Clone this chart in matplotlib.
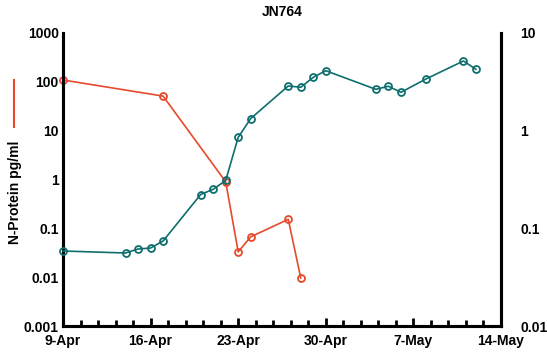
import matplotlib
matplotlib.use("Agg")
import matplotlib.pyplot as plt
from matplotlib.lines import Line2D
from matplotlib.ticker import FixedLocator
import datetime as dt
import matplotlib.dates as mdates

plt.rcParams['font.family'] = ['Liberation Sans', 'DejaVu Sans']
plt.rcParams['font.weight'] = 'bold'

YEAR = 2022
title = "JN764"
ylabel_left = "N-Protein pg/ml"

# Red series (left axis, N-Protein pg/ml)
red_dates = ["04-09", "04-17", "04-22", "04-23", "04-24", "04-27", "04-28"]
red_values = [109, 51, 0.90, 0.033, 0.067, 0.153, 0.0096]

# Teal series (right axis)
teal_dates = ["04-09", "04-14", "04-15", "04-16", "04-17", "04-20", "04-21", "04-22",
              "04-23", "04-24", "04-27", "04-28", "04-29", "04-30", "05-04", "05-05",
              "05-06", "05-08", "05-11", "05-12"]
teal_values = [0.0586, 0.0559, 0.0614, 0.0629, 0.0742, 0.222, 0.251, 0.309,
               0.855, 1.33, 2.87, 2.78, 3.52, 4.11, 2.65, 2.85,
               2.47, 3.38, 5.17, 4.25]

x_tick_dates = ["04-09", "04-16", "04-23", "04-30", "05-07", "05-14"]
x_tick_labels = ["9-Apr", "16-Apr", "23-Apr", "30-Apr", "7-May", "14-May"]
left_ticks = [0.001, 0.01, 0.1, 1, 10, 100, 1000]
left_labels = ["0.001", "0.01", "0.1", "1", "10", "100", "1000"]
right_ticks = [0.01, 0.1, 1, 10]
right_labels = ["0.01", "0.1", "1", "10"]

def d(s):
    m, day = s.split("-")
    return mdates.date2num(dt.datetime(YEAR, int(m), int(day)))

RED = "#E64A2C"
TEAL = "#0E6E6E"

fig = plt.figure(figsize=(5.47, 3.58), dpi=100)
ax = fig.add_axes([63/547, 1-326/358, (501-63)/547, (326-33)/358])
ax2 = ax.twinx()

ax.set_yscale('log')
ax2.set_yscale('log')
ax.set_ylim(0.001, 1000)
ax2.set_ylim(0.01, 10)
x0, x1 = d(x_tick_dates[0]), d(x_tick_dates[-1])
ax.set_xlim(x0, x1)

ax.plot([d(s) for s in red_dates], red_values, color=RED, lw=1.2, marker='o',
        ms=5, mfc='none', mec=RED, mew=1.3, clip_on=False, zorder=5)
ax2.plot([d(s) for s in teal_dates], teal_values, color=TEAL, lw=1.2, marker='o',
         ms=5, mfc='none', mec=TEAL, mew=1.3, clip_on=False, zorder=5)

for a in (ax, ax2):
    a.spines['top'].set_visible(False)
    for sp in ('left', 'right', 'bottom'):
        a.spines[sp].set_linewidth(2.2)

ax.set_yticks(left_ticks)
ax.set_yticklabels(left_labels)
ax.yaxis.set_minor_locator(FixedLocator([]))
ax.tick_params(axis='y', length=0, pad=3, labelsize=10)
ax2.set_yticks(right_ticks)
ax2.set_yticklabels(right_labels)
ax2.yaxis.set_minor_locator(FixedLocator([]))
ax2.tick_params(axis='y', length=0, pad=14, labelsize=10)

ax.set_xticks([d(s) for s in x_tick_dates])
ax.set_xticklabels(x_tick_labels)
minor = [x0 + k * 1.4 for k in range(26)]
ax.xaxis.set_minor_locator(FixedLocator(minor))
ax.tick_params(axis='x', which='major', direction='in', length=6, width=2, pad=6, labelsize=10)
ax.tick_params(axis='x', which='minor', direction='in', length=4, width=2)

ax.set_title(title, fontsize=10, fontweight='bold', pad=12)

fig.text(15/547, 1-192/358, ylabel_left, rotation=90, ha='center', va='center',
         fontsize=10, fontweight='bold')
fig.add_artist(Line2D([14/547, 14/547], [1-80/358, 1-127/358], color=RED, lw=1.5,
                      transform=fig.transFigure))

fig.savefig("out.png", dpi=100)
